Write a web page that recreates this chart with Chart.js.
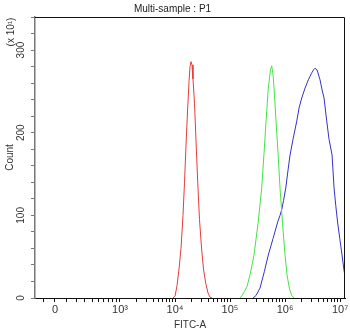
<!DOCTYPE html>
<html>
<head>
<meta charset="utf-8">
<script src="https://cdn.jsdelivr.net/npm/chart.js@4.4.0/dist/chart.umd.min.js"></script>
<style>
  html, body { margin: 0; padding: 0; background: #fff; }
  #wrap { width: 350px; height: 331px; }
</style>
</head>
<body>
<div id="wrap"><canvas id="myChart"></canvas></div>
<script>
// histogram bins: x = log10(FITC-A), y = count (x10)
const redLog   = [3.964, 4.000, 4.036, 4.073, 4.109, 4.145, 4.173, 4.200, 4.227, 4.255, 4.273, 4.291, 4.309, 4.327, 4.355, 4.382, 4.413, 4.445, 4.485, 4.518, 4.558, 4.600, 4.636, 4.673];
const redCount = [0, 2, 15, 35, 60, 100, 140, 185, 225, 262, 280, 286, 282, 265, 235, 190, 140, 95, 58, 35, 18, 6, 1, 0];

const greenLog   = [5.182, 5.218, 5.264, 5.309, 5.364, 5.436, 5.509, 5.576, 5.618, 5.655, 5.696, 5.736, 5.758, 5.782, 5.800, 5.836, 5.873, 5.909, 5.955, 6.000, 6.036, 6.078, 6.122, 6.164];
const greenCount = [0, 3, 8, 14, 28, 52, 90, 133, 175, 214, 254, 276, 281, 270, 254, 214, 175, 133, 90, 52, 28, 12, 3, 0];

const blueLog   = [5.418, 5.473, 5.545, 5.624, 5.696, 5.782, 5.867, 5.909, 5.940, 5.973, 6.013, 6.055, 6.091, 6.145, 6.213, 6.255, 6.304, 6.364, 6.424, 6.482, 6.518, 6.545, 6.582, 6.636, 6.673, 6.709, 6.758, 6.800, 6.855, 6.891, 6.922, 6.955, 6.995, 7.036, 7.073, 7.109, 7.136, 7.155];
const blueCount = [0, 3, 12, 32, 52, 72, 92, 100, 107, 118, 133, 155, 173, 192, 214, 230, 242, 254, 264, 272, 276, 278, 276, 264, 252, 242, 214, 192, 173, 133, 112, 92, 72, 52, 33, 20, 9, 4];

// axis tick values (FITC-A) and labels
const majorTicks  = [0, 1e3, 1e4, 1e5, 1e6, 1e7];
const majorLabels = ['0', '10\u00b3', '10\u2074', '10\u2075', '10\u2076', '10\u2077'];
const linearMinor = [-100, 100, 200, 300, 400, 500, 600, 700, 800, 900];
const yMax = 340;

// biexponential-style display: linear-ish near zero, log above 10^3
const zeroPos = 1.818;
function fitcToAxis(v) {
  if (v >= 1000) return Math.log10(v);
  const w = 300;
  return zeroPos + (3 - zeroPos) * Math.asinh(v / w) / Math.asinh(1000 / w);
}

const minorTicks = linearMinor.map(fitcToAxis);
for (let d = 3; d < 7; d++) {
  for (let k = 2; k <= 9; k++) minorTicks.push(Math.log10(k * Math.pow(10, d)));
}
const majorPos = majorTicks.map(fitcToAxis);

function toPoints(xs, ys) {
  return xs.map((x, i) => ({ x: x, y: ys[i] }));
}

// frame on top/right plus the scale multiplier note
const extras = {
  id: 'extras',
  afterDraw(chart) {
    const { ctx, chartArea: a } = chart;
    ctx.save();
    ctx.strokeStyle = '#111';
    ctx.lineWidth = 1;
    ctx.beginPath();
    ctx.moveTo(a.left, a.top + 0.5);
    ctx.lineTo(a.right - 0.5, a.top + 0.5);
    ctx.lineTo(a.right - 0.5, a.bottom);
    ctx.stroke();
    ctx.translate(11, 32);
    ctx.rotate(-Math.PI / 2);
    ctx.fillStyle = '#333';
    ctx.font = '10px "Liberation Sans", Arial, sans-serif';
    ctx.textAlign = 'center';
    ctx.textBaseline = 'middle';
    ctx.fillText('(x 10\u00b9)', 0, 0);
    ctx.restore();
  }
};

Chart.defaults.font.family = '"Liberation Sans", Arial, sans-serif';
Chart.defaults.font.size = 10;
Chart.defaults.color = '#333';

const ctx = document.getElementById('myChart').getContext('2d');
const myChart = new Chart(ctx, {
  type: 'line',
  data: {
    datasets: [
      { data: toPoints(redLog, redCount), borderColor: 'rgb(228,60,60)' },
      { data: toPoints(greenLog, greenCount), borderColor: 'rgb(70,226,70)' },
      { data: toPoints(blueLog, blueCount), borderColor: 'rgb(50,50,200)' }
    ]
  },
  options: {
    responsive: true,
    maintainAspectRatio: false,
    animation: false,
    layout: { padding: { left: 0, right: 5, top: 0, bottom: 0 } },
    elements: {
      line: { borderWidth: 1, tension: 0, fill: false },
      point: { radius: 0 }
    },
    plugins: {
      legend: { display: false },
      tooltip: { enabled: false },
      title: {
        display: true,
        text: 'Multi-sample : P1',
        color: '#222',
        font: { size: 10, weight: 'normal' },
        padding: { top: 3, bottom: 2 }
      }
    },
    scales: {
      x: {
        type: 'linear',
        min: 1.455,
        max: 7.09,
        afterFit: s => { s.height = 33; },
        afterBuildTicks: s => {
          s.ticks = majorPos.concat(minorTicks).sort((a, b) => a - b).map(v => ({ value: v }));
        },
        ticks: {
          autoSkip: false,
          maxRotation: 0,
          padding: 1,
          font: { size: 11 },
          callback: function (value) {
            const i = majorPos.findIndex(p => Math.abs(p - value) < 1e-6);
            return i >= 0 ? majorLabels[i] : '';
          }
        },
        grid: { drawOnChartArea: false, tickLength: 4, color: '#111' },
        border: { color: '#111' },
        title: { display: true, text: 'FITC-A', color: '#333', padding: { top: 0, bottom: 0 } }
      },
      y: {
        min: 0,
        max: yMax,
        afterFit: s => { s.width = 35; },
        ticks: {
          stepSize: 20,
          autoSkip: false,
          minRotation: 90,
          maxRotation: 90,
          padding: 1,
          crossAlign: 'center',
          callback: v => (v % 100 === 0 ? v : '')
        },
        grid: { drawOnChartArea: false, tickLength: 4, color: '#777' },
        border: { color: '#777', width: 1.5 },
        title: { display: true, text: 'Count', color: '#333', padding: { top: 4, bottom: 0 } }
      }
    }
  },
  plugins: [extras]
});
</script>
</body>
</html>
